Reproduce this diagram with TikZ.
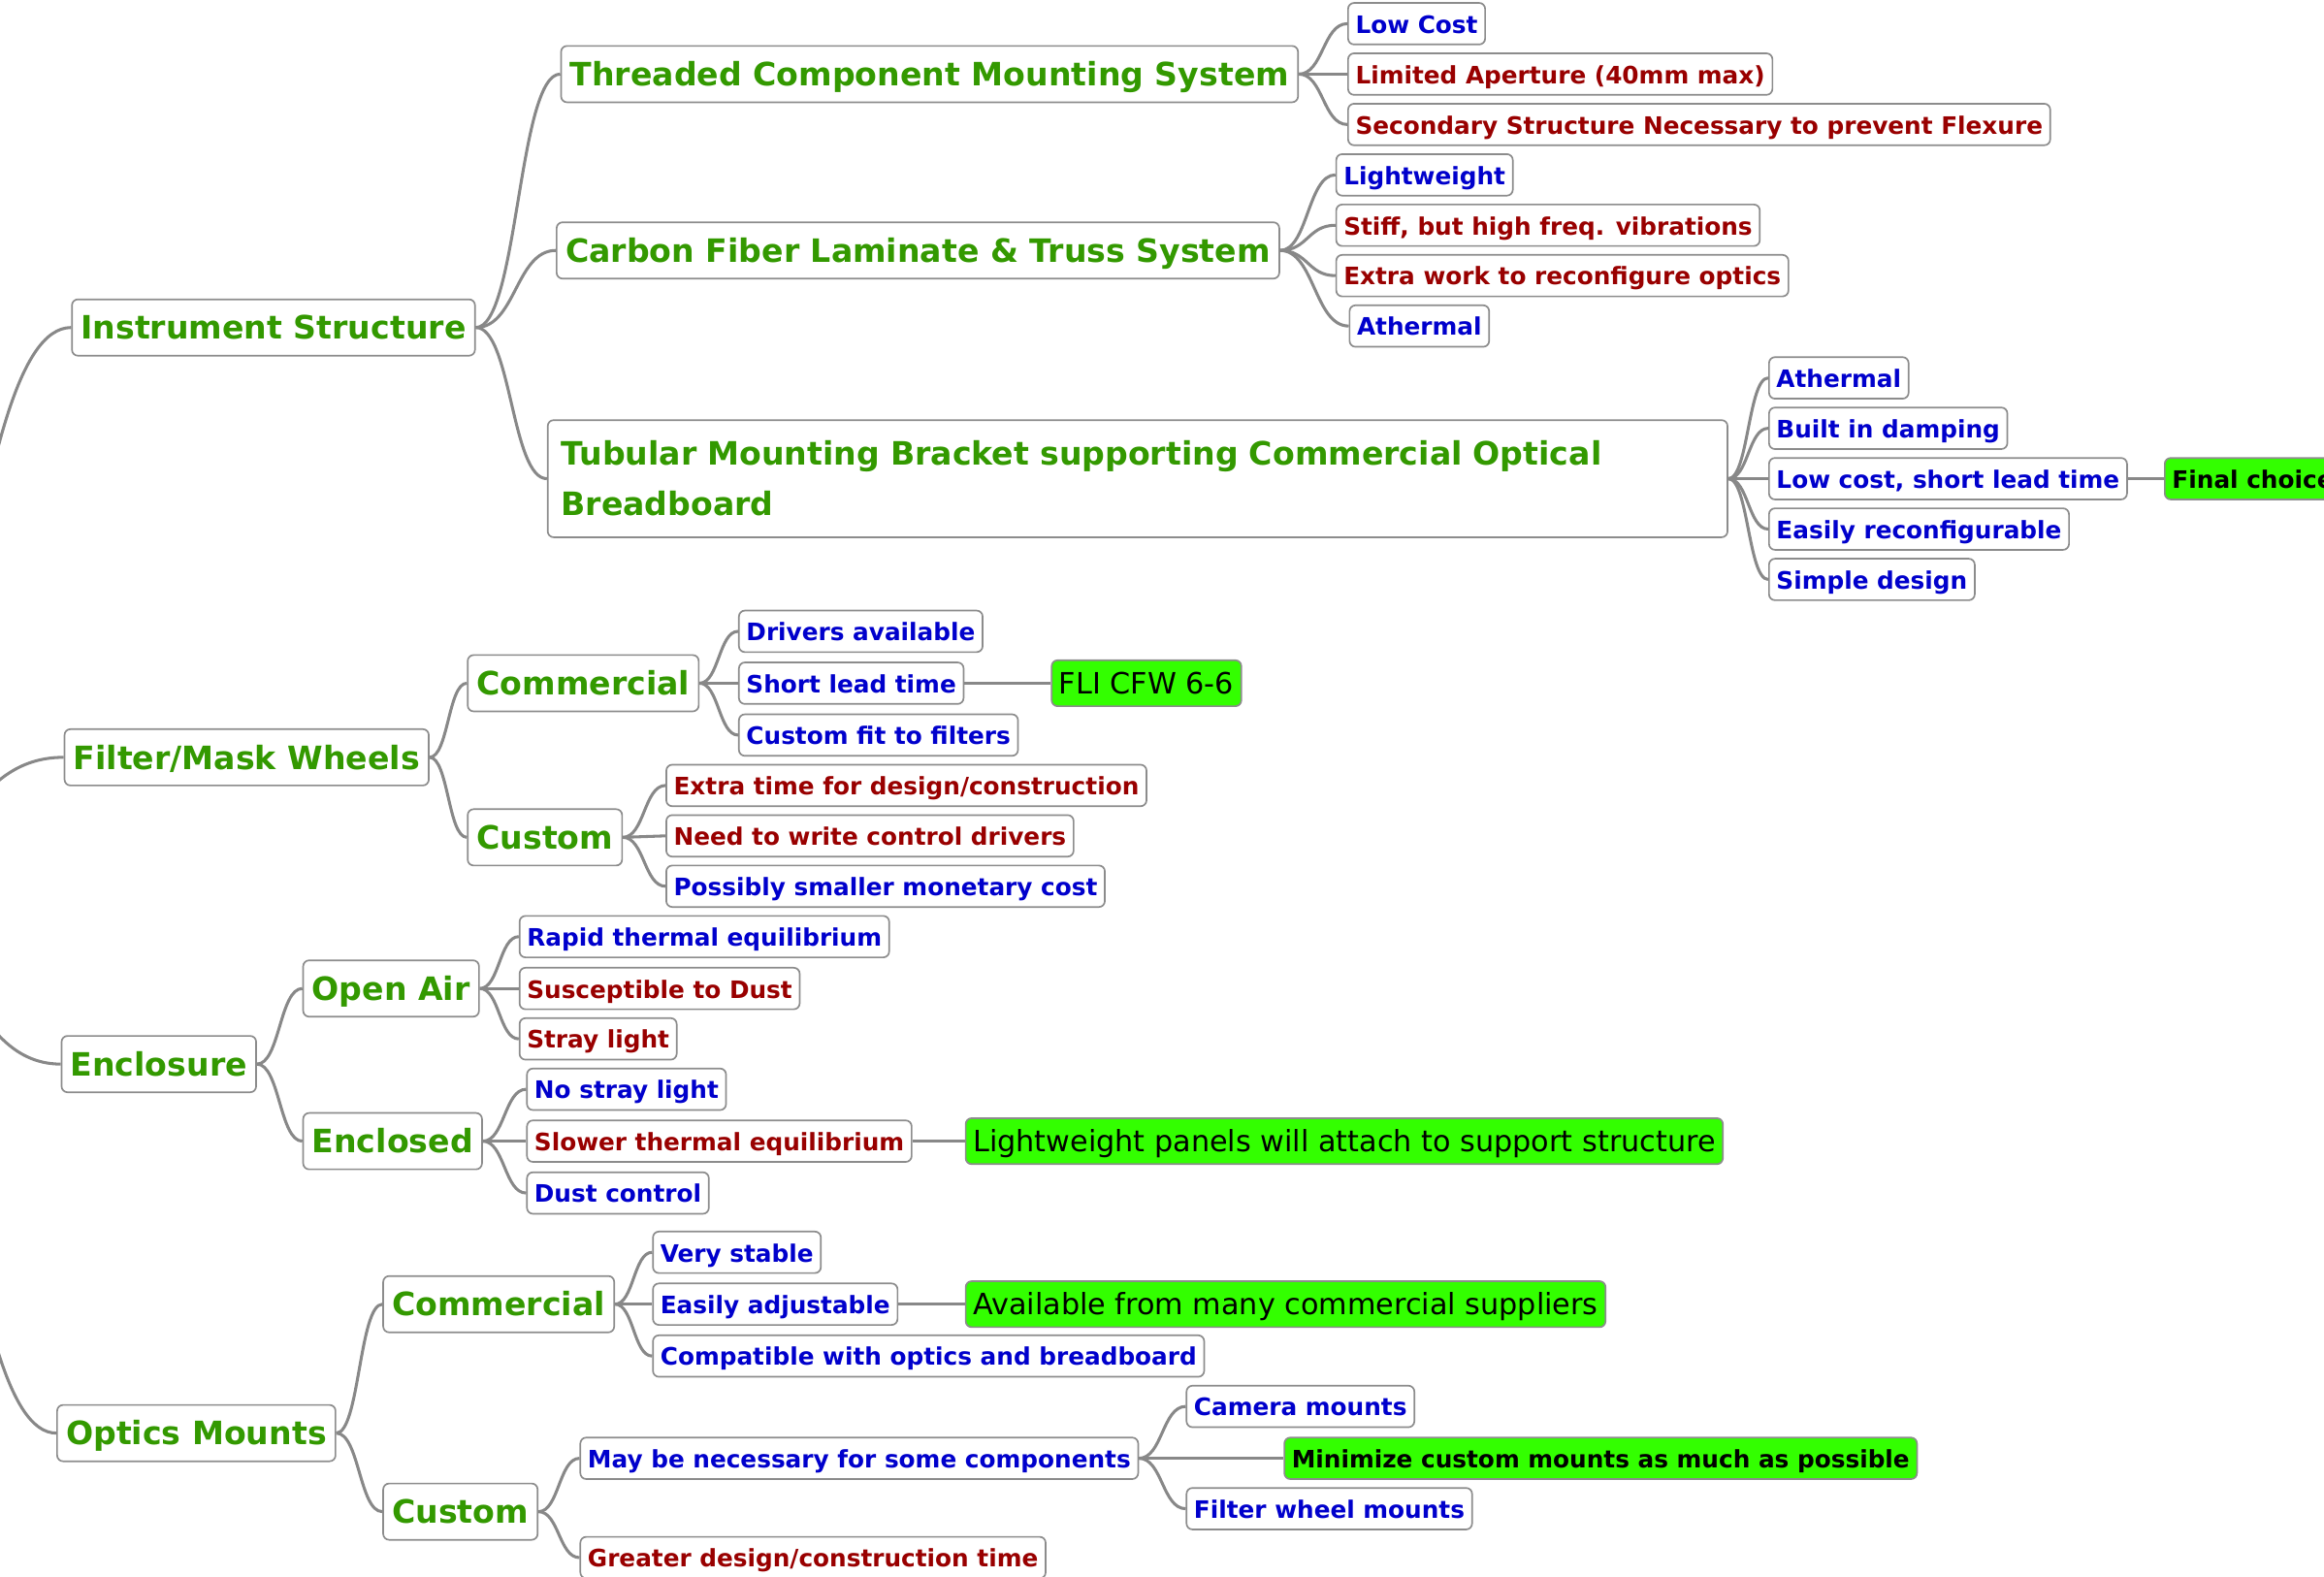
\documentclass[tikz,border=0pt]{standalone}
\usepackage{fontspec}
\setmainfont{DejaVu Sans}
\usepackage{xcolor}
\usepackage{tikz}
\usetikzlibrary{calc}

\definecolor{topicgreen}{HTML}{339900}
\definecolor{problue}{HTML}{0000CC}
\definecolor{conred}{HTML}{990000}
\definecolor{pickgreen}{HTML}{33FF00}
\definecolor{boxgray}{HTML}{8C8C8C}
\definecolor{edgegray}{HTML}{888888}

\tikzset{
  box/.style={draw=boxgray, line width=0.55pt, rounded corners=2pt, fill=white,
    anchor=west, inner ysep=0pt, text height=0.82em, text depth=0.18em},
  topic/.style={box, text=topicgreen, font=\bfseries\fontsize{10.85pt}{13pt}\selectfont,
    minimum height=19pt, inner xsep=3pt, text height=0.9em, text depth=0.1em},
  leaf/.style={box, font=\bfseries\fontsize{8.1pt}{10pt}\selectfont,
    minimum height=14pt, inner xsep=2.5pt},
  good/.style={leaf, text=problue},
  bad/.style={leaf, text=conred},
  choice/.style={box, fill=pickgreen, text=black, font=\fontsize{9.9pt}{12pt}\selectfont,
    minimum height=15.5pt, inner xsep=2.5pt, text height=0.86em, text depth=0.14em},
  bchoice/.style={leaf, fill=pickgreen, text=black},
  branch/.style={draw=edgegray, line width=1pt,
    to path={let \p1=(\tikztostart), \p2=(\tikztotarget) in
      .. controls ({(\x1+\x2)/2},\y1) and ({(\x1+\x2)/2},\y2) .. (\tikztotarget)}},
}

\begin{document}
\begin{tikzpicture}[x=0.5pt,y=-0.5pt]
\useasboundingbox (0,0) rectangle (1568,1064);
\clip (0,0) rectangle (1568,1064);

\coordinate (root) at (-97,600);

% first level
\node[topic] (is)   at (48,221) {Instrument Structure};
\node[topic] (fmw)  at (43,511) {Filter/Mask Wheels};
\node[topic] (encl) at (41,718) {Enclosure};
\node[topic] (om)   at (38,967) {Optics Mounts};

% instrument structure
\node[topic] (thr) at (378,50) {Threaded Component Mounting System};
\node[topic] (cfl) at (375,169) {Carbon Fiber Laminate \& Truss System};
\node[topic, text width=389pt, align=left, inner xsep=4.5pt, text height=, text depth=,
  minimum height=39.5pt, font=\bfseries\fontsize{10.85pt}{17pt}\selectfont] (tub) at (369,323)
  {Tubular Mounting Bracket supporting Commercial Optical\\Breadboard};

\node[good] (lowcost) at (909,16) {Low Cost};
\node[bad]  (aper)    at (909,50) {Limited Aperture (40mm max)};
\node[bad]  (second)  at (909,84) {Secondary Structure Necessary to prevent Flexure};

\node[good] (light)  at (901,118) {Lightweight};
\node[bad]  (stiff)  at (901,152) {Stiff, but high freq. vibrations};
\node[bad]  (extra)  at (901,186) {Extra work to reconfigure optics};
\node[good] (atherm) at (910,220) {Athermal};

\node[good] (tatherm) at (1193,255) {Athermal};
\node[good] (damp)    at (1193,289) {Built in damping};
\node[good] (lead)    at (1193,323) {Low cost, short lead time};
\node[good] (reconf)  at (1193,357) {Easily reconfigurable};
\node[good] (simple)  at (1193,391) {Simple design};
\node[bchoice] (final) at (1460,323) {Final choice};

% filter/mask wheels
\node[topic] (fcom) at (315,461) {Commercial};
\node[topic] (fcus) at (315,565) {Custom};

\node[good] (drivers) at (498,426) {Drivers available};
\node[good] (short)   at (498,461) {Short lead time};
\node[good] (fit)     at (498,496) {Custom fit to filters};
\node[choice] (fli)   at (709,461) {FLI CFW 6-6};

\node[bad]  (xtime)  at (449,530) {Extra time for design/construction};
\node[bad]  (write)  at (449,564) {Need to write control drivers};
\node[good] (money)  at (449,598) {Possibly smaller monetary cost};

% enclosure
\node[topic] (oair) at (204,667) {Open Air};
\node[topic] (encd) at (204,770) {Enclosed};

\node[good] (rapid) at (350,632) {Rapid thermal equilibrium};
\node[bad]  (dust)  at (350,667) {Susceptible to Dust};
\node[bad]  (stray) at (350,701) {Stray light};

\node[good] (nostray) at (355,735) {No stray light};
\node[bad]  (slower)  at (355,770) {Slower thermal equilibrium};
\node[good] (dctrl)   at (355,805) {Dust control};
\node[choice] (panels) at (651,770) {Lightweight panels will attach to support structure};

% optics mounts
\node[topic] (ocom) at (258,880) {Commercial};
\node[topic] (ocus) at (258,1020) {Custom};

\node[good] (stable) at (440,845) {Very stable};
\node[good] (adjust) at (440,880) {Easily adjustable};
\node[good] (compat) at (440,915) {Compatible with optics and breadboard};
\node[choice] (avail) at (651,880) {Available from many commercial suppliers};

\node[good] (maybe)   at (391,984) {May be necessary for some components};
\node[bad]  (greater) at (391,1051) {Greater design/construction time};

\node[good] (camera)   at (800,949) {Camera mounts};
\node[bchoice] (minim) at (866,984) {Minimize custom mounts as much as possible};
\node[good] (fwmount)  at (800,1018) {Filter wheel mounts};

% connectors
\foreach \c in {is,fmw,encl,om} \draw[branch] (root) to (\c.west);
\foreach \c in {thr,cfl,tub} \draw[branch] (is.east) to (\c.west);
\foreach \c in {lowcost,aper,second} \draw[branch] (thr.east) to (\c.west);
\foreach \c in {light,stiff,extra,atherm} \draw[branch] (cfl.east) to (\c.west);
\foreach \c in {tatherm,damp,lead,reconf,simple} \draw[branch] (tub.east) to (\c.west);
\draw[branch] (lead.east) to (final.west);

\foreach \c in {fcom,fcus} \draw[branch] (fmw.east) to (\c.west);
\foreach \c in {drivers,short,fit} \draw[branch] (fcom.east) to (\c.west);
\draw[branch] (short.east) to (fli.west);
\foreach \c in {xtime,write,money} \draw[branch] (fcus.east) to (\c.west);

\foreach \c in {oair,encd} \draw[branch] (encl.east) to (\c.west);
\foreach \c in {rapid,dust,stray} \draw[branch] (oair.east) to (\c.west);
\foreach \c in {nostray,slower,dctrl} \draw[branch] (encd.east) to (\c.west);
\draw[branch] (slower.east) to (panels.west);

\foreach \c in {ocom,ocus} \draw[branch] (om.east) to (\c.west);
\foreach \c in {stable,adjust,compat} \draw[branch] (ocom.east) to (\c.west);
\draw[branch] (adjust.east) to (avail.west);
\foreach \c in {maybe,greater} \draw[branch] (ocus.east) to (\c.west);
\foreach \c in {camera,minim,fwmount} \draw[branch] (maybe.east) to (\c.west);
\end{tikzpicture}
\end{document}
